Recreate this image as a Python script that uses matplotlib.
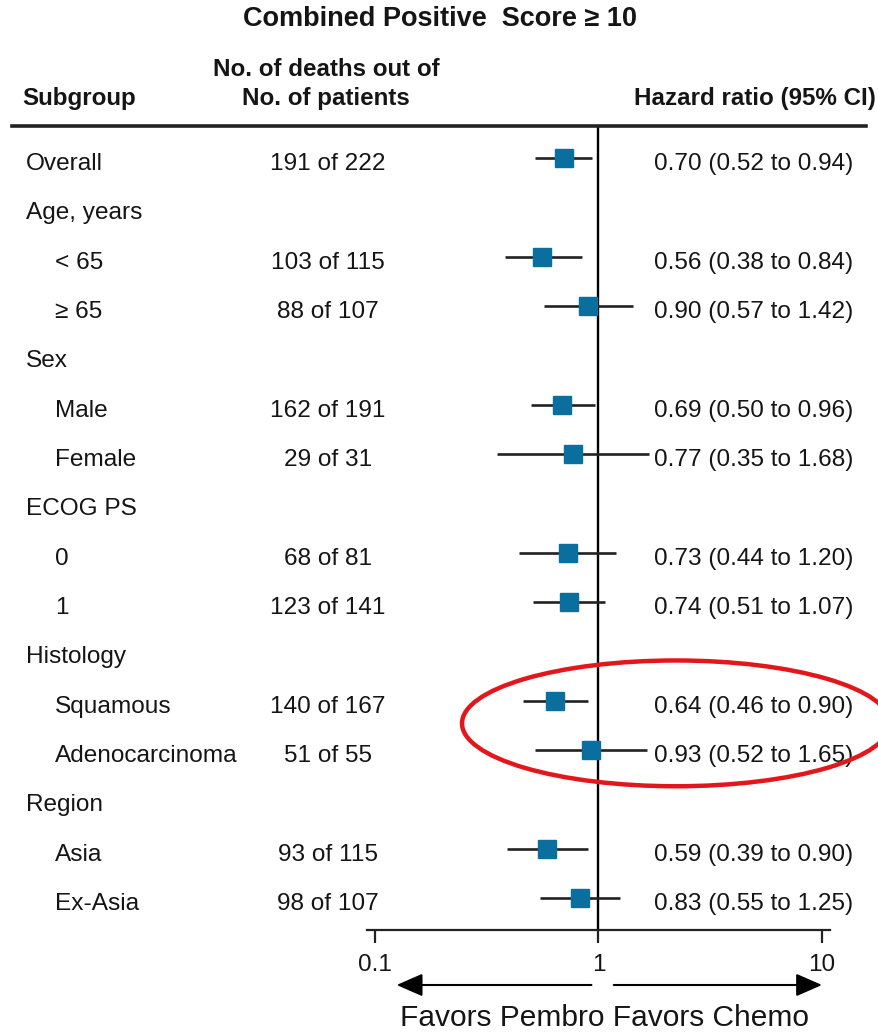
import matplotlib

matplotlib.use("Agg")
import matplotlib.pyplot as plt
import matplotlib.transforms as mtransforms
from matplotlib.patches import Ellipse


# Subgroup rows (top to bottom); None = section header without estimate
LABELS = ["Overall", "Age, years", "< 65", "\u2265 65", "Sex", "Male", "Female",
          "ECOG PS", "0", "1", "Histology", "Squamous", "Adenocarcinoma",
          "Region", "Asia", "Ex-Asia"]
INDENT = [0, 0, 1, 1, 0, 1, 1, 0, 1, 1, 0, 1, 1, 0, 1, 1]
DEATHS = [191, None, 103, 88, None, 162, 29, None, 68, 123, None, 140, 51, None, 93, 98]
PATIENTS = [222, None, 115, 107, None, 191, 31, None, 81, 141, None, 167, 55, None, 115, 107]
HR = [0.70, None, 0.56, 0.90, None, 0.69, 0.77, None, 0.73, 0.74, None, 0.64, 0.93, None, 0.59, 0.83]
LOW = [0.52, None, 0.38, 0.57, None, 0.50, 0.35, None, 0.44, 0.51, None, 0.46, 0.52, None, 0.39, 0.55]
HIGH = [0.94, None, 0.84, 1.42, None, 0.96, 1.68, None, 1.20, 1.07, None, 0.90, 1.65, None, 0.90, 1.25]
X_TICKS = [0.1, 1, 10]
X_TICK_LABELS = ["0.1", "1", "10"]
HIGHLIGHT_ROWS = [11, 12]

W, H = 879, 1034
TEXT = "#151515"
LINE = "#222222"
BOX = "#0a6f9e"
RED = "#e3161b"
FONT = ["Liberation Sans", "DejaVu Sans"]

plt.rcParams["font.family"] = FONT


def fx(px):
    return px / W


def fy(py):
    return 1 - py / H


def main():
    fig = plt.figure(figsize=(W / 100, H / 100), dpi=100)
    fig.patch.set_facecolor("white")

    # forest axes: left 367px .. right 830px, top 125px .. bottom (x axis) 930px
    ax = fig.add_axes([fx(367), fy(930), fx(830 - 367), (930 - 125) / H])
    ax.set_xscale("log")
    ax.set_xlim(0.0921, 10.86)
    row_px = 49.33
    ax.set_ylim((930 - 161) / row_px, (125 - 161) / row_px)
    ax.patch.set_alpha(0)
    for side in ("top", "left", "right"):
        ax.spines[side].set_visible(False)
    ax.spines["bottom"].set_linewidth(1.6)
    ax.spines["bottom"].set_color(LINE)
    ax.set_yticks([])
    ax.set_xticks(X_TICKS)
    ax.set_xticklabels(X_TICK_LABELS)
    ax.xaxis.set_minor_locator(matplotlib.ticker.NullLocator())
    ax.tick_params(axis="x", length=9, width=1.6, color=LINE, pad=8,
                   labelsize=17.5, labelcolor=TEXT)

    ax.axvline(1, color="black", lw=1.7, zorder=1)

    for i in range(len(LABELS)):
        if HR[i] is None:
            continue
        ax.plot([LOW[i], HIGH[i]], [i - 0.06, i - 0.06], color=LINE, lw=1.9, zorder=2,
                solid_capstyle="butt")
        ax.plot(HR[i], i - 0.06, marker="s", ms=12.5, color=BOX, mec=BOX, zorder=3,
                linestyle="none")

    # text columns: x in figure fraction, y in row units
    tr = mtransforms.blended_transform_factory(fig.transFigure, ax.transData)
    for i, label in enumerate(LABELS):
        x = fx(55) if INDENT[i] else fx(26)
        y = i + 0.06
        ax.text(x, y, label, transform=tr, ha="left", va="center", fontsize=17.6,
                color=TEXT, clip_on=False)
        if DEATHS[i] is not None:
            ax.text(fx(328), y, f"{DEATHS[i]} of {PATIENTS[i]}", transform=tr,
                    ha="center", va="center", fontsize=17.6, color=TEXT, clip_on=False)
            ax.text(fx(654), y, f"{HR[i]:.2f} ({LOW[i]:.2f} to {HIGH[i]:.2f})",
                    transform=tr, ha="left", va="center", fontsize=17.6, color=TEXT,
                    clip_on=False)

    # highlight ellipse around histology rows
    yc = sum(HIGHLIGHT_ROWS) / len(HIGHLIGHT_ROWS) - 0.1
    ax.add_patch(Ellipse((fx(676), yc), fx(428), 2.55, transform=tr, fill=False,
                         edgecolor=RED, lw=3.2, clip_on=False, zorder=4))

    # headers
    fig.text(fx(440), fy(19), "Combined Positive  Score \u2265 10", ha="center",
             va="center", fontsize=19.5, fontweight="bold", color=TEXT)
    fig.text(fx(22), fy(99), "Subgroup", ha="left", va="center", fontsize=17.4,
             fontweight="bold", color=TEXT)
    fig.text(fx(326), fy(69), "No. of deaths out of", ha="center", va="center",
             fontsize=17.4, fontweight="bold", color=TEXT)
    fig.text(fx(326), fy(99), "No. of patients", ha="center", va="center",
             fontsize=17.4, fontweight="bold", color=TEXT)
    fig.text(fx(634), fy(99), "Hazard ratio (95% CI)", ha="left", va="center",
             fontsize=17.4, fontweight="bold", color=TEXT)
    fig.add_artist(plt.Line2D([fx(12), fx(866)], [fy(126), fy(126)], color=LINE, lw=2.6))

    # direction arrows
    ya = (H - 985 - (H - 930)) / (930 - 125)
    arr = mtransforms.blended_transform_factory(ax.transData, ax.transAxes)
    style = dict(arrowstyle="-|>,head_length=0.8,head_width=0.35", color="black",
                 lw=1.5, shrinkA=0, shrinkB=0, mutation_scale=20)
    ax.annotate("", xy=(0.125, ya), xytext=(0.93, ya), xycoords=arr, textcoords=arr,
                arrowprops=style, annotation_clip=False)
    ax.annotate("", xy=(10.0, ya), xytext=(1.17, ya), xycoords=arr, textcoords=arr,
                arrowprops=style, annotation_clip=False)
    fig.text(fx(604), fy(1018), "Favors Pembro Favors Chemo", ha="center",
             va="center", fontsize=21.5, color=TEXT)

    fig.savefig("out.png", dpi=100, facecolor="white")
    plt.close(fig)


if __name__ == "__main__":
    main()
